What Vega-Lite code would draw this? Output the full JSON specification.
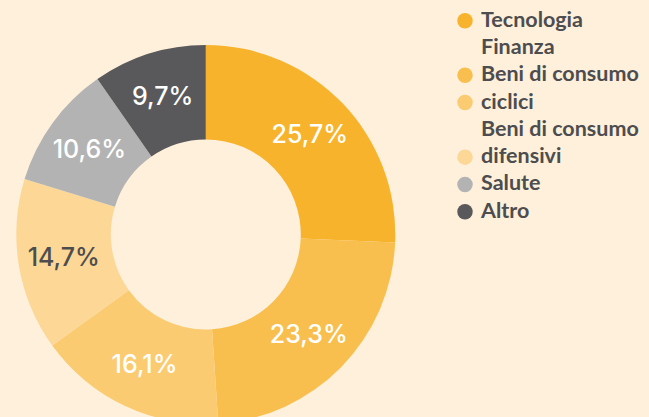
{
  "$schema": "https://vega.github.io/schema/vega-lite/v6.json",
  "background": "#FEF0DB",
  "padding": {"left": 0, "top": 0, "right": 10, "bottom": 0},
  "spacing": 43,
  "config": {"view": {"stroke": null}},
  "datasets": {
    "slices": [
      {"category": "Tecnologia", "value": 25.7, "label": "25,7%", "order": 1},
      {"category": "Finanza", "value": 23.3, "label": "23,3%", "order": 2},
      {"category": "Beni di consumo ciclici", "value": 16.1, "label": "16,1%", "order": 3},
      {"category": "Beni di consumo difensivi", "value": 14.7, "label": "14,7%", "order": 4},
      {"category": "Salute", "value": 10.6, "label": "10,6%", "order": 5},
      {"category": "Altro", "value": 9.7, "label": "9,7%", "order": 6}
    ],
    "legendLines": [
      {"line": "Tecnologia", "row": 1, "category": "Tecnologia"},
      {"line": "Finanza", "row": 2, "category": null},
      {"line": "Beni di consumo", "row": 3, "category": "Finanza"},
      {"line": "ciclici", "row": 4, "category": "Beni di consumo ciclici"},
      {"line": "Beni di consumo", "row": 5, "category": null},
      {"line": "difensivi", "row": 6, "category": "Beni di consumo difensivi"},
      {"line": "Salute", "row": 7, "category": "Salute"},
      {"line": "Altro", "row": 8, "category": "Altro"}
    ]
  },
  "resolve": {"scale": {"color": "shared"}},
  "hconcat": [
    {
      "width": 411.6,
      "height": 469,
      "data": {"name": "slices"},
      "encoding": {
        "theta": {"field": "value", "type": "quantitative", "stack": true},
        "order": {"field": "order", "type": "quantitative"}
      },
      "layer": [
        {
          "mark": {"type": "arc", "outerRadius": 189.5, "innerRadius": 95},
          "encoding": {
            "color": {
              "field": "category",
              "type": "nominal",
              "legend": null,
              "scale": {
                "domain": ["Tecnologia", "Finanza", "Beni di consumo ciclici", "Beni di consumo difensivi", "Salute", "Altro"],
                "range": ["#F8B32D", "#F8BF4E", "#FACB70", "#FCD796", "#B3B3B4", "#59595B"]
              }
            }
          }
        },
        {
          "mark": {"type": "text", "radius": 144, "font": "Inter", "fontSize": 25, "fontWeight": 500, "align": "center", "baseline": "middle"},
          "encoding": {
            "text": {"field": "label"},
            "color": {
              "condition": {"test": "datum.category === 'Beni di consumo difensivi'", "value": "#4D4D4F"},
              "value": "#FFFFFF"
            }
          }
        }
      ]
    },
    {
      "width": 20,
      "height": 232.4,
      "data": {"name": "legendLines"},
      "encoding": {
        "y": {"field": "row", "type": "ordinal", "axis": null, "scale": {"type": "point", "padding": 0.7585}}
      },
      "layer": [
        {
          "transform": [{"filter": "datum.category != null"}],
          "mark": {"type": "point", "shape": "circle", "filled": true, "opacity": 1, "size": 240},
          "encoding": {
            "color": {"field": "category", "type": "nominal", "legend": null}
          }
        },
        {
          "mark": {"type": "text", "font": "Lato", "fontSize": 21.5, "fontWeight": 700, "align": "left", "baseline": "middle", "dx": 16, "color": "#4D4D4F"},
          "encoding": {
            "text": {"field": "line"}
          }
        }
      ]
    }
  ]
}
